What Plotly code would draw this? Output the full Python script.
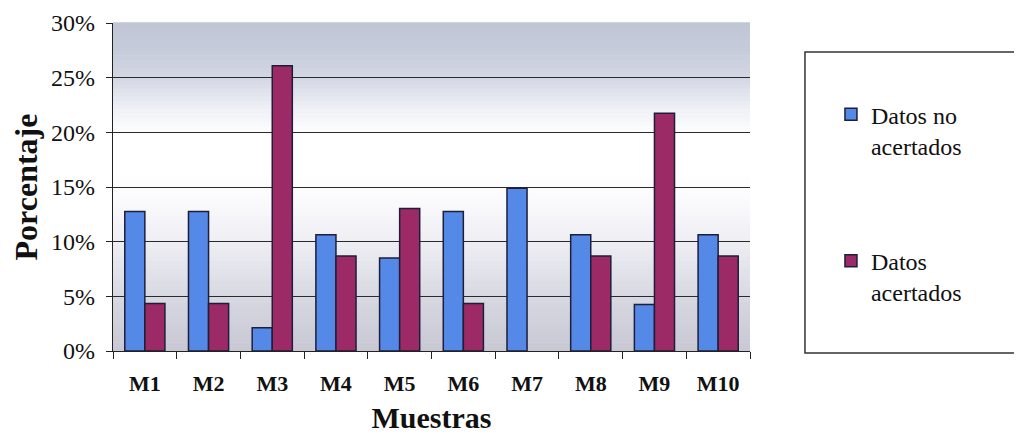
import plotly.graph_objects as go

# ---- data ----
categories = ["M1", "M2", "M3", "M4", "M5", "M6", "M7", "M8", "M9", "M10"]
no_acertados = [12.77, 12.77, 2.13, 10.64, 8.51, 12.77, 14.89, 10.64, 4.26, 10.64]
acertados = [4.35, 4.35, 26.09, 8.70, 13.04, 4.35, 0.0, 8.70, 21.74, 8.70]
series_names = ["Datos no<br>acertados", "Datos<br>acertados"]
y_ticks = [0, 5, 10, 15, 20, 25, 30]
y_tick_labels = ["%d%%" % v for v in y_ticks]

FONT = "Liberation Serif"
BLUE = "#5589E8"
RED = "#9B2A66"
EDGE = "#1E1E3A"

def outline_widths(vals):
    # Excel draws no outline for a zero-height bar
    return [1.5 if v > 0 else 0 for v in vals]

fig = go.Figure()
fig.add_trace(go.Bar(
    x=categories, y=no_acertados, name=series_names[0], legendgroup="a",
    marker=dict(color=BLUE, line=dict(color=EDGE, width=outline_widths(no_acertados))),
))
fig.add_trace(go.Bar(
    x=categories, y=acertados, name=series_names[1], legendgroup="b",
    marker=dict(color=RED, line=dict(color=EDGE, width=outline_widths(acertados))),
))

# ---- background gradient of the plot area (styling only) ----
stops = [
    (0.00, (200, 200, 212)),
    (0.15, (214, 214, 224)),
    (0.32, (236, 236, 242)),
    (0.45, (250, 250, 252)),
    (0.55, (255, 255, 255)),
    (0.66, (255, 255, 255)),
    (0.74, (238, 240, 246)),
    (0.83, (212, 216, 228)),
    (0.92, (198, 203, 218)),
    (1.00, (192, 198, 214)),
]

def col_at(t):
    for (t0, c0), (t1, c1) in zip(stops[:-1], stops[1:]):
        if t0 <= t <= t1:
            f = 0 if t1 == t0 else (t - t0) / (t1 - t0)
            c = [round(a + (b - a) * f) for a, b in zip(c0, c1)]
            return "rgb(%d,%d,%d)" % tuple(c)
    return "rgb(%d,%d,%d)" % stops[-1][1]

N = 80
shapes = []
for i in range(N):
    t0 = i / N
    t1 = (i + 1) / N
    shapes.append(dict(
        type="rect", xref="x domain", yref="y domain",
        x0=0, x1=1, y0=t0, y1=t1 + 0.002,
        fillcolor=col_at((t0 + t1) / 2), line=dict(width=0), layer="below",
    ))

# legend frame
shapes.append(dict(
    type="rect", xref="paper", yref="paper",
    x0=1.0863, x1=1.44, y0=-0.006, y1=0.9116,
    line=dict(color="#333333", width=1.5), fillcolor="rgba(0,0,0,0)", layer="above",
))

# the page body adds an 8px margin, so the figure is 8px smaller than the window
fig.update_layout(
    width=1014, height=435,
    margin=dict(l=105, r=272, t=15, b=92, autoexpand=False),
    paper_bgcolor="white", plot_bgcolor="white",
    font=dict(family=FONT, color="#111111"),
    barmode="group", bargap=0.37, bargroupgap=0.0,
    shapes=shapes,
    showlegend=True,
    legend=dict(
        x=1.1271, xanchor="left", y=0.789, yanchor="top",
        font=dict(family=FONT, size=24, color="#111111"),
        valign="top", traceorder="grouped", tracegroupgap=81,
        bgcolor="rgba(0,0,0,0)", borderwidth=0,
    ),
)

fig.update_xaxes(
    type="category", tickson="boundaries", ticks="outside", ticklen=7,
    tickcolor="#222222", tickwidth=1.2,
    showline=True, linecolor="#222222", linewidth=1.2,
    showgrid=False, ticklabelstandoff=12,
    tickfont=dict(family=FONT, size=22, color="#111111", weight="bold"),
    title=dict(text="Muestras", font=dict(family=FONT, size=30, color="#111111", weight="bold"), standoff=12),
)
fig.update_yaxes(
    range=[0, 30], tickmode="array", tickvals=y_ticks, ticktext=y_tick_labels,
    ticks="outside", ticklen=6, tickcolor="#222222", tickwidth=1.2,
    showline=True, linecolor="#222222", linewidth=1.2,
    showgrid=True, gridcolor="#2a2a2a", gridwidth=1,
    zeroline=False, ticklabelstandoff=6,
    tickfont=dict(family=FONT, size=24, color="#111111"),
    title=dict(text="Porcentaje", font=dict(family=FONT, size=32, color="#111111", weight="bold"), standoff=10),
)

fig.write_html("out.html")
